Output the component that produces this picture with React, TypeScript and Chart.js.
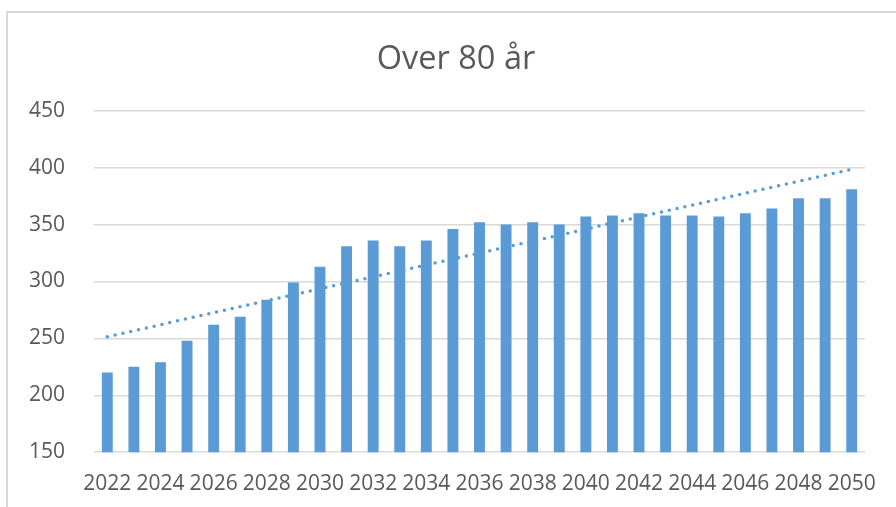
import React, { useEffect, useRef } from "react";
import { Chart, registerables } from "chart.js";

Chart.register(...registerables);

const titleText = "Over 80 år";
const years = [
  "2022", "2023", "2024", "2025", "2026", "2027", "2028", "2029", "2030", "2031",
  "2032", "2033", "2034", "2035", "2036", "2037", "2038", "2039", "2040", "2041",
  "2042", "2043", "2044", "2045", "2046", "2047", "2048", "2049", "2050",
];
const values = [
  220, 225, 229, 248, 262, 269, 284, 299, 313, 331,
  336, 331, 336, 346, 352, 350, 352, 350, 357, 358,
  360, 358, 358, 357, 360, 364, 373, 373, 381,
];
// linear trendline: start (2022) and end (2050) values
const trendStart = 251.5;
const trendEnd = 398.5;
const yTicks = [150, 200, 250, 300, 350, 400, 450];
const xLabelStep = 2;

const BAR = "#5b9bd5";
const TEXT = "#595959";
const GRID = "#d9d9d9";
const FONT = "'Open Sans', 'Liberation Sans', sans-serif";

const titlePlugin = {
  id: "offsetTitle",
  afterDraw(chart: any) {
    const ctx = chart.ctx;
    ctx.save();
    ctx.font = `normal 32.5px ${FONT}`;
    ctx.fillStyle = TEXT;
    ctx.textAlign = "center";
    ctx.textBaseline = "middle";
    ctx.fillText(titleText, 456, 59.8);
    ctx.restore();
  },
};

export default function App() {
  const ref = useRef<HTMLCanvasElement | null>(null);

  useEffect(() => {
    if (!ref.current) return;
    const trend = years.map((_, i) =>
      i === 0 ? trendStart : i === years.length - 1 ? trendEnd : null
    );
    const chart = new Chart(ref.current, {
      type: "bar",
      data: {
        labels: years,
        datasets: [
          {
            type: "line",
            label: "Trend",
            data: trend as any,
            borderColor: BAR,
            borderWidth: 3.5,
            borderDash: [0, 8],
            borderCapStyle: "round",
            pointRadius: 0,
            spanGaps: true,
            fill: false,
            order: 0,
          } as any,
          {
            type: "bar",
            label: "Over 80 år",
            data: values,
            backgroundColor: BAR,
            borderWidth: 0,
            categoryPercentage: 1,
            barPercentage: 0.41,
            order: 1,
          },
        ],
      },
      plugins: [titlePlugin],
      options: {
        animation: false,
        responsive: true,
        maintainAspectRatio: false,
        layout: { padding: { left: 0, right: 31, top: 110.7, bottom: 12 } },
        plugins: {
          legend: { display: false },
          tooltip: { enabled: false },
          title: { display: false },
        },
        scales: {
          x: {
            offset: true,
            grid: { display: false, drawTicks: false },
            border: { display: false },
            afterFit: (scale: any) => {
              scale.height = 42.8;
            },
            ticks: {
              autoSkip: false,
              maxRotation: 0,
              minRotation: 0,
              padding: 19,
              color: TEXT,
              font: { family: FONT, size: 21 },
              callback: (_v: any, i: number) => (i % xLabelStep === 0 ? years[i] : ""),
            },
          },
          y: {
            min: yTicks[0],
            max: yTicks[yTicks.length - 1],
            afterBuildTicks: (scale: any) => {
              scale.ticks = yTicks.map((v) => ({ value: v }));
            },
            afterFit: (scale: any) => {
              scale.width = 94;
            },
            grid: { color: GRID, lineWidth: 1.5, drawTicks: false },
            border: { display: false },
            ticks: {
              padding: 29,
              color: TEXT,
              font: { family: FONT, size: 21 },
            },
          },
        },
      },
    });
    return () => chart.destroy();
  }, []);

  return (
    <div
      style={{
        position: "fixed",
        left: 0,
        top: 0,
        width: 896,
        height: 507,
        background: "#ffffff",
        overflow: "hidden",
      }}
    >
      <div
        style={{
          position: "absolute",
          left: 6,
          top: 11,
          width: 920,
          height: 520,
          borderLeft: `2px solid ${GRID}`,
          borderTop: `2px solid ${GRID}`,
          pointerEvents: "none",
        }}
      />
      <canvas ref={ref} style={{ position: "absolute", left: 0, top: 0, width: 896, height: 507 }} />
    </div>
  );
}
